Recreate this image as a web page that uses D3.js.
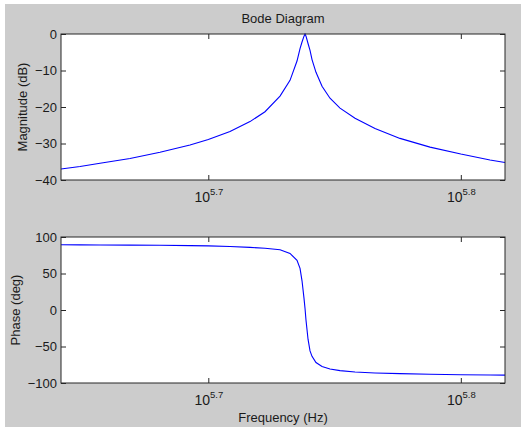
<!DOCTYPE html>
<html>
<head>
<meta charset="utf-8">
<script src="https://cdn.jsdelivr.net/npm/d3@7"></script>
<style>
  body { margin: 0; background: #fff; }
  svg { display: block; font-family: Arial, "Liberation Sans", sans-serif; }
  .tick line { stroke: #262626; }
  .tick text { fill: #1a1a1a; font-size: 13px; }
</style>
</head>
<body>
<svg width="521" height="427"></svg>
<script>
// frequency samples (Hz)
var freqHz = [438190, 445860, 454060, 466650, 479590, 492890, 501190, 511200,
    520610, 527790, 535060, 539960, 543410, 544910, 545900, 546890, 547400,
    547890, 548900, 549900, 550900, 552900, 555950, 560010, 565150, 572930,
    583470, 596920, 613480, 630960, 647980, 656900];

// magnitude (dB)
var magDb = [-37.0, -36.3, -35.4, -34.1, -32.4, -30.4, -28.9, -26.7,
    -24.0, -21.3, -17.0, -12.7, -7.4, -4.0, -2.2, -0.6, 0,
    -0.6, -2.6, -4.5, -7.0, -10.5, -14.3, -17.6, -20.3, -23.1,
    -25.9, -28.6, -31.0, -32.9, -34.5, -35.2];

// phase (deg)
var phaseDeg = [89.3, 89.2, 89.1, 88.9, 88.6, 88.2, 87.8, 87.0,
    85.8, 84.5, 82.5, 77.5, 68.0, 57.0, 40.0, 16.0, 2.0,
    -14.0, -40.0, -56.0, -63.5, -72.0, -77.5, -80.8, -83.0, -85.0,
    -86.3, -87.2, -88.0, -88.6, -89.0, -89.2];

var freqTicks = [501187, 630957];
var freqTickExp = ['5.7', '5.8'];
var magTicks = [0, -10, -20, -30, -40];
var phaseTicks = [100, 50, 0, -50, -100];

var svg = d3.select('svg');

// grey figure background
svg.append('rect')
    .attr('x', 5).attr('y', 4)
    .attr('width', 516).attr('height', 423)
    .attr('fill', '#cccccc');

var left = 61, right = 505;
var x = d3.scaleLog().domain([438190, 656900]).range([left, right]);

var panels = [
    {top: 34, bottom: 180, domain: [-40, 0], ticks: magTicks, values: magDb, label: 'Magnitude (dB)', lx: 27},
    {top: 237, bottom: 383, domain: [-100, 100], ticks: phaseTicks, values: phaseDeg, label: 'Phase (deg)', lx: 20}
];

panels.forEach(function (p) {
    var y = d3.scaleLinear().domain(p.domain).range([p.bottom, p.top]);
    var g = svg.append('g');

    g.append('rect')
        .attr('x', left).attr('y', p.top)
        .attr('width', right - left).attr('height', p.bottom - p.top)
        .attr('fill', '#fff');

    var line = d3.line()
        .x(function (d, i) { return x(freqHz[i]); })
        .y(function (d) { return y(d); });

    g.append('path')
        .datum(p.values)
        .attr('d', line)
        .attr('fill', 'none')
        .attr('stroke', '#0000ff')
        .attr('stroke-width', 1.1);

    // y axes (ticks inside)
    g.append('g')
        .attr('transform', 'translate(' + left + ',0)')
        .call(d3.axisLeft(y).tickValues(p.ticks).tickSizeInner(-5).tickSizeOuter(0).tickPadding(4))
        .call(function (a) { a.select('.domain').remove(); a.selectAll('text').attr('font-size', null); });
    g.append('g')
        .attr('transform', 'translate(' + right + ',0)')
        .call(d3.axisRight(y).tickValues(p.ticks).tickSizeInner(-5).tickSizeOuter(0).tickFormat(''))
        .call(function (a) { a.select('.domain').remove(); });

    // x axes
    g.append('g')
        .attr('transform', 'translate(0,' + p.top + ')')
        .call(d3.axisTop(x).tickValues(freqTicks).tickSizeInner(-5).tickSizeOuter(0).tickFormat(''))
        .call(function (a) { a.select('.domain').remove(); });
    var xb = g.append('g')
        .attr('transform', 'translate(0,' + p.bottom + ')')
        .call(d3.axisBottom(x).tickValues(freqTicks).tickSizeInner(-5).tickSizeOuter(0))
        .call(function (a) { a.select('.domain').remove(); });

    xb.selectAll('.tick text')
        .attr('dy', null)
        .attr('y', 22)
        .text(null)
        .each(function (d, i) {
            var t = d3.select(this);
            t.append('tspan').attr('font-size', 14).text('10');
            t.append('tspan').attr('dy', -7).attr('font-size', 9.5).text(freqTickExp[i]);
        });

    g.append('rect')
        .attr('x', left).attr('y', p.top)
        .attr('width', right - left).attr('height', p.bottom - p.top)
        .attr('fill', 'none')
        .attr('stroke', '#262626')
        .attr('stroke-width', 1);

    svg.append('text')
        .attr('transform', 'translate(' + p.lx + ',' + (p.top + p.bottom) / 2 + ') rotate(-90)')
        .attr('text-anchor', 'middle')
        .attr('font-size', 13)
        .attr('fill', '#1a1a1a')
        .text(p.label);
});

svg.append('text')
    .attr('x', (left + right) / 2).attr('y', 23)
    .attr('text-anchor', 'middle')
    .attr('font-size', 13)
    .attr('fill', '#1a1a1a')
    .text('Bode Diagram');

svg.append('text')
    .attr('x', (left + right) / 2).attr('y', 422)
    .attr('text-anchor', 'middle')
    .attr('font-size', 13)
    .attr('fill', '#1a1a1a')
    .text('Frequency (Hz)');
</script>
</body>
</html>
